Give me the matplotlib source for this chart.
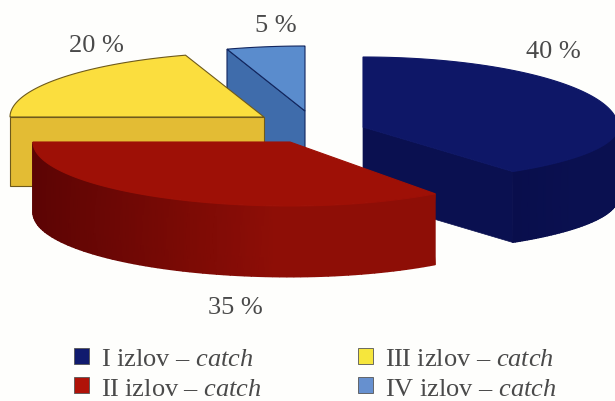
import numpy as np
from matplotlib import pyplot as plt
from matplotlib.colors import LinearSegmentedColormap
from matplotlib.patches import Patch, Polygon

shares = [40, 35, 20, 5]
names = ["I izlov", "II izlov", "III izlov", "IV izlov"]

# pie drawing setup, one entry per slice
apexes = [(363, 128), (290, 143), (264, 118), (305, 112)]
radius_left = [255, 257, 254, 78 / 0.309]
radius_right = [255, 247, 254, 254]
radius_back = [70, 64, 65, 65]
radius_front = [55, 64, 65, 65]
depths = [71, 71, 69, 71]
top_colors = ["#0e1767", "#9e1006", "#fbde3e", "#5a8ccd"]
radial_colors = ["#0a1050", "#8a0d06", "#e3bc34", "#3f6cab"]
side_left = ["#090e4c", "#5c0404", "#e3bc34", "#3f6cab"]
side_right = ["#0a1050", "#8e0e06", "#e3bc34", "#3f6cab"]
line_colors = [None, None, "#6e5a1c", "#12265e"]
label_spots = [(553, 52), (235, 308), (96, 46), (276, 26)]
draw_order = [3, 2, 0, 1]

plt.rcParams["font.family"] = ["Liberation Serif"]
plt.rcParams["mathtext.fontset"] = "custom"
plt.rcParams["mathtext.it"] = "Liberation Serif:italic"
plt.rcParams["mathtext.rm"] = "Liberation Serif"


def rim(i, angle):
    """Point on the outer edge of slice i, angle in degrees clockwise from the top. """
    t = np.radians(angle)
    ry = np.where(np.cos(t) > 0, radius_back[i], radius_front[i])
    rx = np.where(np.sin(t) > 0, radius_right[i], radius_left[i])
    return apexes[i][0] + rx * np.sin(t), apexes[i][1] - ry * np.cos(t)


def draw_slice(ax, i, start, end):
    cx, cy = apexes[i]
    depth = depths[i]
    angles = np.linspace(start, end, 120)
    xs, ys = rim(i, angles)

    # flat face on the radial side that looks at us
    if end <= 180:
        ex, ey = rim(i, end)
        ax.add_patch(Polygon([(cx, cy), (ex, ey), (ex, ey + depth), (cx, cy + depth)],
                             fc=radial_colors[i], ec=radial_colors[i], lw=0.5))
    if start >= 270:
        sx, sy = rim(i, start)
        ax.add_patch(Polygon([(cx, cy), (sx, sy), (sx, sy + depth), (cx, cy + depth)],
                             fc=radial_colors[i], ec=line_colors[i], lw=0.8))

    # curved wall, only the front part is visible
    low = max(start, 90)
    high = min(end, 270)
    if low < high:
        wall = np.linspace(low, high, 80)
        wx, wy = rim(i, wall)
        shade = np.clip((wx - wx.min()) / (0.6 * (wx.max() - wx.min())), 0, 1)
        cmap = LinearSegmentedColormap.from_list("wall", [side_left[i], side_right[i]])
        ax.pcolormesh(np.array([wx, wx]), np.array([wy, wy + depth]), np.array([shade, shade]),
                      shading="gouraud", cmap=cmap, vmin=0, vmax=1)

    top = [(cx, cy)] + list(zip(xs, ys))
    ax.add_patch(Polygon(top, fc=top_colors[i], ec=line_colors[i] or top_colors[i], lw=0.8))


def main():
    fig = plt.figure(figsize=(6.15, 4.02), dpi=100, facecolor="#fefefc")
    ax = fig.add_axes([0, 0, 1, 1])
    ax.set_xlim(0, 615)
    ax.set_ylim(402, 0)
    ax.axis("off")

    edges = np.cumsum([0] + shares) * 3.6
    for i in draw_order:
        draw_slice(ax, i, edges[i], edges[i + 1])

    for share, spot in zip(shares, label_spots):
        ax.text(spot[0], spot[1], "{} %".format(share), fontsize=19, color="#4a4a4a",
                ha="center", va="center")

    # legend is filled column by column, same as the picture
    handles = [Patch(fc=c, ec="#555555", lw=0.6) for c in ["#101a6e", "#b01208", "#f6e63c", "#6690cf"]]
    labels = ["{} – $catch$".format(n) for n in names]
    ax.legend(handles, labels, ncol=2, frameon=False, loc="upper left",
              bbox_to_anchor=(0.121, 0.132), fontsize=19, labelcolor="#4a4a4a",
              handlelength=0.57, handleheight=0.57, handletextpad=0.45,
              columnspacing=3.62, labelspacing=0.26, borderpad=0, borderaxespad=0)

    fig.savefig("out.png", dpi=100, facecolor=fig.get_facecolor())


main()
